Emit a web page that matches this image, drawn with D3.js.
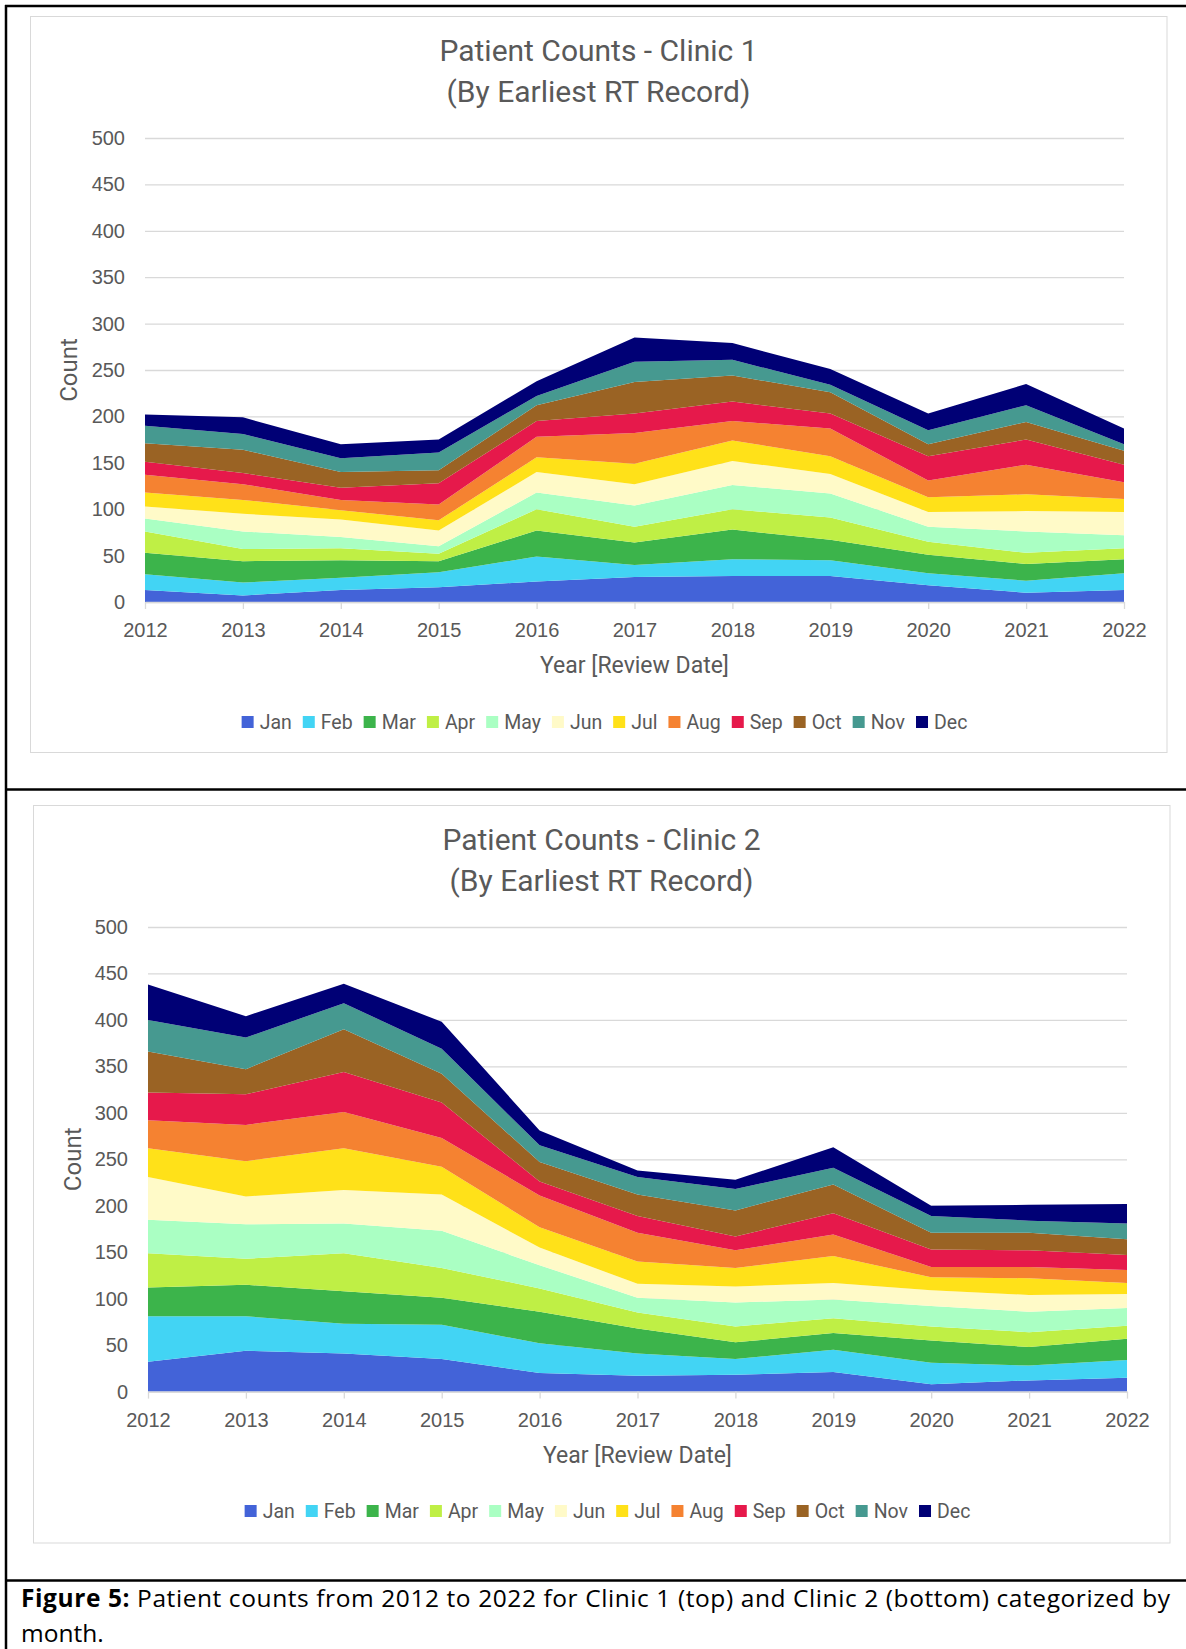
<!DOCTYPE html>
<html>
<head>
<meta charset="utf-8">
<script src="https://cdn.jsdelivr.net/npm/d3@7"></script>
<style>
  body { margin: 0; background: #fff; }
  svg { display: block; font-family: Roboto, "Noto Sans", sans-serif; }
  .caption { font-family: "Open Sans", Lato, sans-serif; }
</style>
</head>
<body>
<svg id="fig" width="1186" height="1649"></svg>
<script>
const years = [2012, 2013, 2014, 2015, 2016, 2017, 2018, 2019, 2020, 2021, 2022];
const months = ['Jan', 'Feb', 'Mar', 'Apr', 'May', 'Jun', 'Jul', 'Aug', 'Sep', 'Oct', 'Nov', 'Dec'];
const monthColors = ['#4363d8', '#42d4f4', '#3cb44b', '#bfef45', '#aaffc3', '#fffac8',
                     '#ffe119', '#f58231', '#e6194b', '#9a6324', '#469990', '#000075'];
const yTicks = [0, 50, 100, 150, 200, 250, 300, 350, 400, 450, 500];

// one row per month, one value per year (2012..2022)
const clinic1Counts = [
  [13, 7, 13, 16, 22, 27, 28, 28, 18, 10, 13],   // Jan
  [17, 14, 13, 16, 27, 13, 18, 17, 13, 13, 18],  // Feb
  [23, 23, 19, 12, 28, 24, 32, 22, 20, 18, 15],  // Mar
  [23, 13, 13, 8, 23, 17, 22, 24, 14, 12, 12],   // Apr
  [14, 19, 12, 8, 18, 23, 26, 26, 16, 23, 14],   // May
  [13, 19, 19, 17, 22, 23, 26, 21, 16, 22, 25],  // Jun
  [15, 15, 10, 11, 16, 22, 22, 19, 16, 18, 14],  // Jul
  [19, 17, 11, 17, 22, 33, 21, 30, 18, 32, 18],  // Aug
  [14, 12, 13, 23, 17, 21, 21, 16, 26, 27, 19],  // Sep
  [20, 25, 17, 14, 17, 34, 28, 23, 13, 19, 15],  // Oct
  [19, 17, 15, 19, 10, 22, 17, 8, 15, 18, 7],    // Nov
  [12, 18, 15, 14, 16, 26, 18, 17, 18, 23, 17]   // Dec
];

const clinic2Counts = [
  [32, 44, 41, 35, 20, 17, 18, 21, 8, 12, 15],   // Jan
  [49, 37, 32, 37, 32, 24, 17, 24, 23, 16, 19],  // Feb
  [31, 34, 35, 29, 34, 27, 18, 18, 24, 20, 23],  // Mar
  [37, 28, 41, 32, 25, 17, 17, 16, 15, 16, 14],  // Apr
  [36, 37, 32, 40, 25, 16, 26, 20, 22, 22, 19],  // May
  [46, 30, 36, 39, 19, 15, 17, 18, 17, 18, 15],  // Jun
  [31, 38, 45, 30, 22, 24, 20, 29, 14, 18, 12],  // Jul
  [30, 39, 39, 31, 34, 31, 19, 23, 11, 12, 14],  // Aug
  [30, 33, 43, 38, 15, 18, 15, 23, 19, 18, 16],  // Sep
  [44, 27, 46, 31, 21, 23, 28, 31, 18, 19, 17],  // Oct
  [34, 34, 28, 27, 18, 19, 23, 18, 18, 13, 17],  // Nov
  [38, 23, 21, 29, 16, 7, 10, 22, 11, 17, 21]    // Dec
];

const textGray = '#595959';
const gridGray = '#d9d9d9';

const svg = d3.select('#fig');
svg.append('rect').attr('width', 1186).attr('height', 1649).attr('fill', '#fff');

function drawChart(cfg) {
  const g = svg.append('g');

  g.append('rect')
    .attr('x', cfg.box[0]).attr('y', cfg.box[1])
    .attr('width', cfg.box[2]).attr('height', cfg.box[3])
    .attr('fill', '#fff').attr('stroke', gridGray).attr('stroke-width', 1);

  const x = d3.scaleLinear().domain([years[0], years[years.length - 1]]).range([cfg.x0, cfg.x1]);
  const y = d3.scaleLinear().domain([0, 500]).range([cfg.y0, cfg.yTop]);

  // title
  cfg.title.forEach((t, i) => {
    g.append('text')
      .attr('x', cfg.titleX).attr('y', cfg.titleY[i])
      .attr('text-anchor', 'middle')
      .attr('font-size', 30).attr('fill', textGray)
      .text(t);
  });

  // y grid + labels
  const yAxis = g.append('g')
    .attr('transform', `translate(${cfg.x0},0)`)
    .call(d3.axisLeft(y).tickValues(yTicks).tickSize(-(cfg.x1 - cfg.x0)).tickPadding(20));
  yAxis.select('.domain').remove();
  yAxis.selectAll('line').attr('stroke', gridGray).attr('stroke-width', 1.3);
  yAxis.selectAll('text').attr('font-size', 20).attr('fill', textGray).attr('font-family', null);

  // stacked areas
  const rows = years.map((yr, i) => {
    const r = { year: yr };
    months.forEach((m, j) => { r[m] = cfg.counts[j][i]; });
    return r;
  });
  const series = d3.stack().keys(months)(rows);
  const area = d3.area()
    .x(d => x(d.data.year))
    .y0(d => y(d[0]))
    .y1(d => y(d[1]));
  g.append('g').selectAll('path')
    .data(series)
    .join('path')
    .attr('fill', (d, i) => monthColors[i])
    .attr('d', area);

  // x axis
  const xAxis = g.append('g')
    .attr('transform', `translate(0,${cfg.y0})`)
    .call(d3.axisBottom(x).tickValues(years).tickFormat(d3.format('d')).tickSize(7).tickPadding(14).tickSizeOuter(0));
  xAxis.select('.domain').attr('stroke', gridGray).attr('stroke-width', 1.3);
  xAxis.selectAll('line').attr('stroke', gridGray).attr('stroke-width', 1.3);
  xAxis.selectAll('text').attr('font-size', 20).attr('fill', textGray).attr('font-family', null);

  // axis titles
  g.append('text')
    .attr('x', (cfg.x0 + cfg.x1) / 2).attr('y', cfg.xTitleY)
    .attr('text-anchor', 'middle').attr('font-size', 23).attr('fill', textGray)
    .text('Year [Review Date]');
  g.append('text')
    .attr('transform', `translate(${cfg.yTitleX},${(cfg.y0 + cfg.yTop) / 2}) rotate(-90)`)
    .attr('text-anchor', 'middle').attr('dominant-baseline', 'central')
    .attr('font-size', 24).attr('fill', textGray)
    .text('Count');

  // legend
  const leg = g.append('g');
  let cx = 0;
  months.forEach((m, i) => {
    leg.append('rect')
      .attr('x', cx).attr('y', cfg.legendY - 6)
      .attr('width', 12).attr('height', 12)
      .attr('fill', monthColors[i]);
    const t = leg.append('text')
      .attr('x', cx + 18).attr('y', cfg.legendY)
      .attr('dominant-baseline', 'central')
      .attr('font-size', 19.5).attr('fill', textGray)
      .text(m);
    cx += 18 + t.node().getComputedTextLength() + 11;
  });
  const legW = cx - 11;
  leg.attr('transform', `translate(${cfg.legendX - legW / 2},0)`);
}

drawChart({
  counts: clinic1Counts,
  title: ['Patient Counts - Clinic 1', '(By Earliest RT Record)'],
  box: [30.5, 16.5, 1136.5, 736],
  x0: 145, x1: 1124, y0: 602, yTop: 138,
  titleX: 598.5, titleY: [61, 102],
  xTitleY: 673, yTitleX: 69,
  legendX: 604.5, legendY: 722
});

drawChart({
  counts: clinic2Counts,
  title: ['Patient Counts - Clinic 2', '(By Earliest RT Record)'],
  box: [33.5, 805.5, 1136.5, 737.5],
  x0: 148, x1: 1127, y0: 1391.6, yTop: 927,
  titleX: 601.5, titleY: [850, 891],
  xTitleY: 1463, yTitleX: 72.5,
  legendX: 607.5, legendY: 1511
});

// table borders
const border = svg.append('g').attr('stroke', '#000').attr('stroke-width', 2.5);
border.append('line').attr('x1', 5).attr('x2', 1186).attr('y1', 6).attr('y2', 6);
border.append('line').attr('x1', 6).attr('x2', 6).attr('y1', 5).attr('y2', 1649);
border.append('line').attr('x1', 5).attr('x2', 1186).attr('y1', 789.5).attr('y2', 789.5);
border.append('line').attr('x1', 5).attr('x2', 1186).attr('y1', 1580.5).attr('y2', 1580.5);

// caption
const cap = svg.append('text')
  .attr('class', 'caption')
  .attr('x', 21).attr('y', 1607)
  .attr('textLength', 1149).attr('lengthAdjust', 'spacing')
  .attr('font-size', 24.5).attr('fill', '#000');
cap.append('tspan').attr('font-weight', 'bold').text('Figure 5:');
cap.append('tspan').text(' Patient counts from 2012 to 2022 for Clinic 1 (top) and Clinic 2 (bottom) categorized by');
svg.append('text')
  .attr('class', 'caption')
  .attr('x', 21).attr('y', 1642)
  .attr('font-size', 24.5).attr('fill', '#000')
  .text('month.');
</script>
</body>
</html>
